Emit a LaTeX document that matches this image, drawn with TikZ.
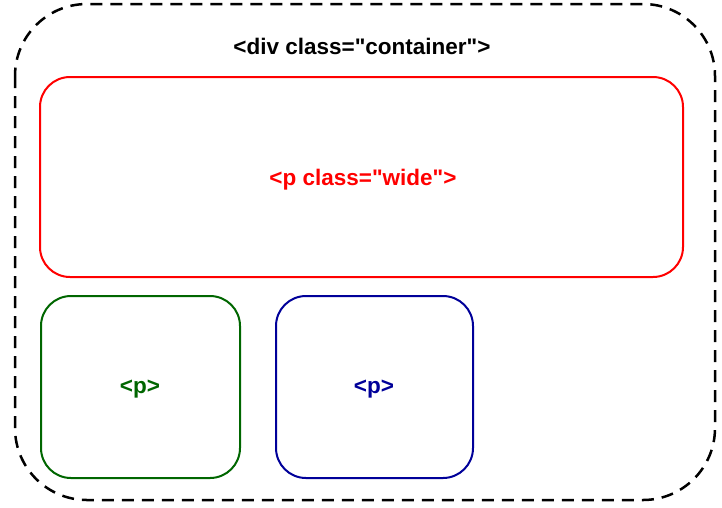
\documentclass[tikz,border=0pt]{standalone}
\usepackage{fontspec}
\setmainfont{Liberation Sans}[Ligatures=TeXOff]
\definecolor{boxgreen}{HTML}{006600}
\definecolor{boxblue}{HTML}{000099}
\definecolor{boxred}{HTML}{FF0000}
\tikzset{
  box/.style={rounded corners=#1, line width=2pt},
  lbl/.style={font=\fontsize{22.5}{24}\selectfont\bfseries, inner sep=0pt}
}
\begin{document}
\begin{tikzpicture}[x=1pt,y=-1pt]
\useasboundingbox (0,0) rectangle (722,507);
\draw[box=72, line width=2.5pt, dash pattern=on 12pt off 8pt] (15,4) rectangle (715,500);
\node[lbl] (title) at (362,46) {<div class="container">};
\draw[box=30, boxred] (40,77) rectangle (683,277);
\node[lbl, text=boxred] (wide) at (363,180) {<p class="wide">};
\draw[box=30, boxgreen] (41,296) rectangle (240,478);
\node[lbl, text=boxgreen] (p1) at (140,389.5) {<p>};
\draw[box=30, boxblue] (276,296) rectangle (473,478);
\node[lbl, text=boxblue] (p2) at (374,389.5) {<p>};
\end{tikzpicture}
\end{document}
